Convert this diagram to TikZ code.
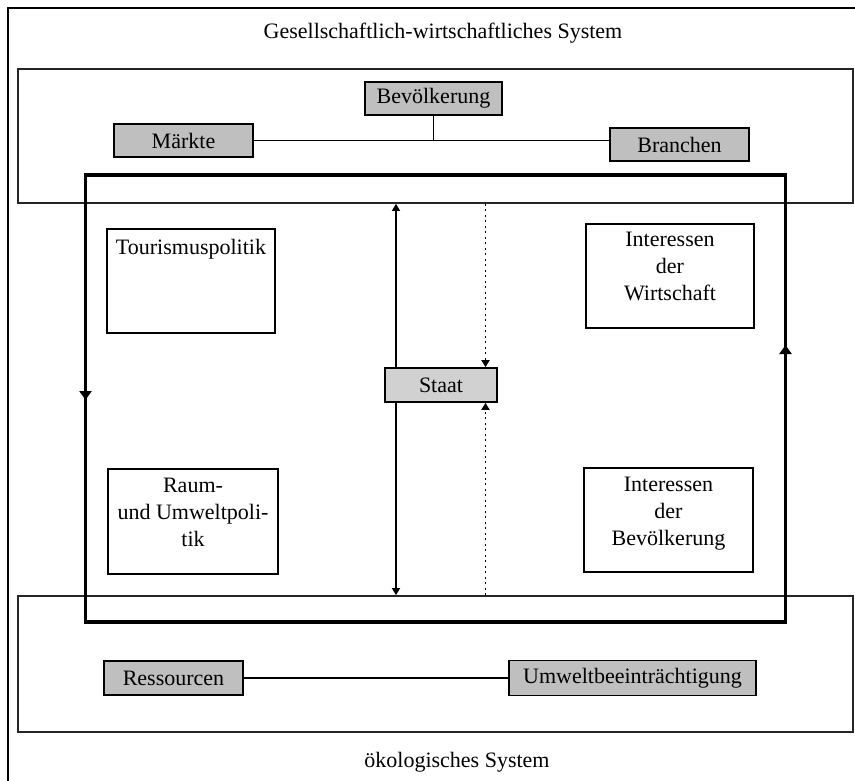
\documentclass[tikz,border=0pt]{standalone}
\usepackage{fontspec}
\setmainfont{Liberation Serif}
\usetikzlibrary{arrows.meta}
\begin{document}
\begin{tikzpicture}[x=1pt,y=-1pt,
  font=\fontsize{22}{27}\selectfont,
  sysbox/.style={draw=black!85, line width=1.7pt, inner sep=0pt},
  shaded/.style={draw, line width=1.7pt, fill=black!25, inner sep=0pt},
  plain/.style={draw, line width=1.5pt, inner sep=0pt},
  link/.style={line width=1.5pt},
  dotlink/.style={line width=1.7pt, dash pattern=on 1.7pt off 3.8pt},
  tip/.style={-{Triangle[length=7pt,width=8pt]}},
  frametip/.style={-{Triangle[length=9pt,width=12pt]}},
  frame/.style={line width=3.2pt}]
\useasboundingbox (0,0) rectangle (855,781);
\fill[white] (0,0) rectangle (855,781);

% outer border
\draw[line width=2.8pt] (8,790) -- (8,8) -- (860,8);

% the two systems
\node[anchor=base] (gtitle) at (443,39) {Gesellschaftlich-wirtschaftliches System};
\node[anchor=base] (otitle) at (457,767) {ökologisches System};
\node[sysbox, minimum width=835pt, minimum height=134pt] (gsys) at (435.5,136) {};
\node[sysbox, minimum width=835pt, minimum height=136pt] (osys) at (435.5,664) {};

% actors of the socio-economic system
\node[shaded, minimum width=137pt, minimum height=33pt] (bev) at (433.5,98.5) {Bevölkerung};
\node[shaded, minimum width=139pt, minimum height=33pt] (maerkte) at (183.5,140.5) {Märkte};
\node[shaded, minimum width=139pt, minimum height=33pt] (branchen) at (679.5,144.5) {Branchen};
\draw[link] (maerkte.east) -- (maerkte.east -| branchen.west);
\draw[link] (bev.south) -- (bev.south |- maerkte.east);

% ecological system
\node[shaded, minimum width=139pt, minimum height=34pt] (res) at (173.5,678) {Ressourcen};
\node[shaded, minimum width=247pt, minimum height=35pt] (umw) at (632.5,678) {Umweltbeeinträchtigung};
\draw[link] (res.east) -- (umw.west);

% tourism system frame with its circulation
\coordinate (ftl) at (85.5,175);
\coordinate (fbr) at (785.5,622);
\draw[frame] (ftl) rectangle (fbr);
\draw[frame, frametip] (85.5,380) -- (85.5,400);
\draw[frame, frametip] (785.5,365) -- (785.5,345);

% policy fields and interests
\node[plain, minimum width=168pt, minimum height=104pt,
  label={[anchor=north, yshift=-7pt]north:Tourismuspolitik}] (tour) at (191,281) {};
\node[plain, minimum width=170pt, minimum height=105pt,
  label={[align=center, yshift=9.5pt]center:Raum-\\und Umweltpoli-\\tik}] (raum) at (193,521.5) {};
\node[plain, minimum width=168pt, minimum height=104pt,
  label={[align=center, yshift=9.5pt]center:Interessen\\der\\Wirtschaft}] (wirt) at (670,276) {};
\node[plain, minimum width=169pt, minimum height=104pt,
  label={[align=center, yshift=6.5pt]center:Interessen\\der\\Bevölkerung}] (bevint) at (668.5,520) {};

% state between both systems
\coordinate (xs) at (396,0);
\coordinate (xd) at (485.5,0);
\draw[link, {Triangle[length=7pt,width=8pt]}-{Triangle[length=7pt,width=8pt]}]
  (gsys.south -| xs) -- (osys.north -| xs);
\node[shaded, fill=black!18, minimum width=112pt, minimum height=34pt] (staat) at (441,385) {Staat};
\draw[dotlink, tip] (gsys.south -| xd) -- (staat.north -| xd);
\draw[dotlink, tip] (osys.north -| xd) -- (staat.south -| xd);
\end{tikzpicture}
\end{document}
